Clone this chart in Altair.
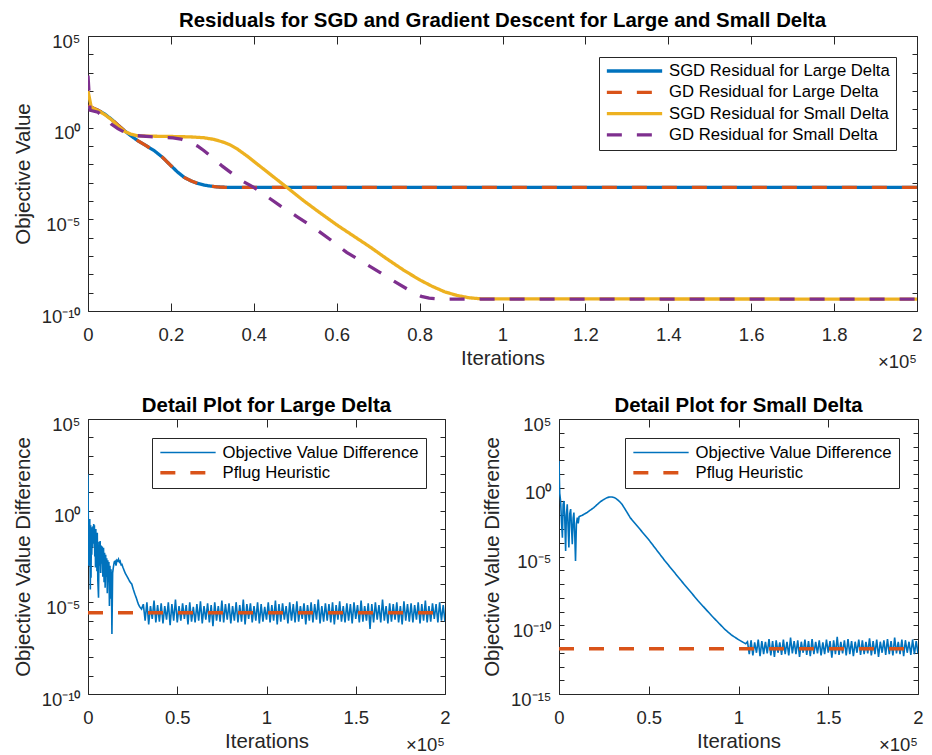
import altair as alt
import pandas as pd

FONT = "Liberation Sans"
AX = "#262626"
BLUE, ORANGE, YELLOW, PURPLE = "#0072BD", "#D95319", "#EDB120", "#7E2F8E"

TOP_NAMES = ["SGD Residual for Large Delta", "GD Residual for Large Delta",
             "SGD Residual for Small Delta", "GD Residual for Small Delta"]
DETAIL_NAMES = ["Objective Value Difference", "Pflug Heuristic"]

TOP_TITLE = "Residuals for SGD and Gradient Descent for Large and Small Delta"
LEFT_TITLE = "Detail Plot for Large Delta"
RIGHT_TITLE = "Detail Plot for Small Delta"

TOP_X_TICKS = [0, 20000, 40000, 60000, 80000, 100000, 120000, 140000, 160000, 180000, 200000]
DETAIL_X_TICKS = [0, 50000, 100000, 150000, 200000]
TOP_Y_TICKS = [1e5, 1e4, 1e3, 1e2, 1e1, 1e0, 1e-1, 1e-2, 1e-3, 1e-4, 1e-5,
               1e-6, 1e-7, 1e-8, 1e-9, 1e-10]
RIGHT_Y_TICKS = TOP_Y_TICKS + [1e-11, 1e-12, 1e-13, 1e-14, 1e-15]

# ---- top panel (iterations, log10 of objective value) ----
large_x = [0, 1000, 2400, 4000, 5600, 7200, 8800, 10400, 12000, 14000, 16000, 18000,
           20000, 21600, 23200, 24800, 26400, 28000, 29600, 31200, 32800, 34400, 37000, 200000]
sgd_large_log = [1.12, 1.08, 0.95, 0.75, 0.47, 0.15, -0.17, -0.45, -0.71, -0.98, -1.26, -1.62,
                 -2.07, -2.42, -2.71, -2.9, -3.04, -3.13, -3.19, -3.23, -3.25, -3.26, -3.26, -3.26]
gd_large_log = [1.2, 1.1, 0.95, 0.75, 0.47, 0.15, -0.17, -0.45, -0.71, -0.98, -1.26, -1.62,
                -2.07, -2.42, -2.71, -2.9, -3.04, -3.13, -3.19, -3.23, -3.25, -3.26, -3.26, -3.26]

sgd_small_x = [0, 800, 2400, 4000, 5600, 7200, 8800, 10400, 12000, 14400, 16800, 19600, 22400,
               25200, 28000, 30400, 32800, 34400, 36000, 38400, 40800, 44000, 48000, 52000, 56000,
               60000, 64000, 68000, 72000, 76000, 80000, 83000, 86000, 89000, 92000, 95000, 200000]
sgd_small_log = [2.0, 1.1, 0.93, 0.72, 0.45, 0.1, -0.2, -0.36, -0.44, -0.46, -0.47, -0.48, -0.49,
                 -0.51, -0.55, -0.64, -0.8, -0.95, -1.16, -1.55, -1.98, -2.55, -3.26, -3.98, -4.65,
                 -5.3, -5.9, -6.5, -7.14, -7.75, -8.3, -8.65, -8.95, -9.15, -9.28, -9.34, -9.35]

gd_small_x = [0, 500, 2400, 4000, 5600, 7200, 8800, 10400, 12000, 15000, 18400, 20500, 22400,
              24500, 26400, 28000, 30400, 32400, 34400, 37000, 40000, 43200, 46400, 50400, 54400,
              58400, 62400, 66400, 70400, 74400, 78400, 80400, 82300, 85000, 200000]
gd_small_log = [2.84, 0.95, 0.84, 0.55, 0.2, -0.05, -0.25, -0.38, -0.44, -0.49, -0.53, -0.56, -0.62,
                -0.78, -1.0, -1.26, -1.7, -2.1, -2.44, -2.88, -3.26, -3.76, -4.26, -4.85, -5.44,
                -6.1, -6.8, -7.35, -7.89, -8.45, -8.99, -9.2, -9.3, -9.35, -9.35]

# ---- detail plot, large delta ----
dl_early_x = [0, 200, 400, 600, 800, 1000, 1300, 1500, 1700, 1900,
              2100, 2400, 2600, 2800, 3000, 3200, 3400, 3600, 3800, 4000,
              4200, 4400, 4600, 4800, 5000, 5200, 5500, 5900, 6200, 6500,
              6800, 7100, 7400, 7700, 8000, 8300, 8700, 9000, 9300, 9600,
              9900, 10200, 10500, 10800, 11100, 11400, 11700, 12000, 12300, 12600,
              12900, 13200, 13400, 13800, 14200, 14700, 15200, 15700, 16200, 16700,
              17100, 17600, 18000, 18500, 19000, 19600, 20200, 20800, 21700, 22500,
              23300, 24000, 24500, 25400, 26300, 27200, 28200, 29000, 30000]
dl_early_log = [1.98, -0.9, -3.0, -0.5, -2.2, -0.45, -4.3, -0.8, -3.66, -1.0,
                -2.4, -0.9, -2.0, -0.85, -1.6, -0.73, -1.8, -0.8, -2.5, -1.1,
                -3.1, -1.0, -2.7, -1.3, -3.3, -1.2, -3.8, -4.75, -1.7, -3.0,
                -1.65, -3.4, -1.9, -2.9, -1.95, -3.6, -2.02, -3.9, -2.3, -4.2,
                -2.4, -3.6, -2.6, -4.5, -2.7, -3.9, -2.8, -5.2, -3.0, -4.8,
                -3.2, -4.5, -6.73, -3.4, -3.1, -2.8, -2.75, -3.0, -2.7, -2.75,
                -2.65, -2.8, -2.75, -2.95, -2.93, -3.1, -3.25, -3.4, -3.56, -3.7,
                -3.85, -3.95, -4.0, -4.3, -4.56, -4.8, -5.1, -5.25, -5.37]
dl_flat_x = list(range(31000, 201000, 1000))
dl_flat_log = [
    -5.1, -6.0, -5.0, -6.2, -5.2, -5.9, -4.9, -6.1, -5.15, -6.05,
    -5.05, -6.15, -5.2, -5.95, -5.0, -6.25, -5.1, -6.0, -4.85, -6.1,
    -5.2, -6.0, -5.05, -5.9, -5.15, -6.2, -5.0, -6.05, -5.25, -6.1,
    -5.1, -6.0, -4.95, -6.15, -5.2, -5.95, -5.05, -6.1, -5.15, -6.3,
    -5.0, -6.0, -5.2, -6.05, -4.9, -6.1, -5.1, -5.95, -5.05, -6.15,
    -5.2, -6.0, -5.0, -6.1, -5.15, -6.05, -4.85, -6.2, -5.1, -5.9,
    -5.05, -6.1, -5.2, -6.0, -5.0, -6.15, -5.1, -6.05, -5.25, -5.95,
    -5.0, -6.1, -5.15, -6.0, -4.9, -6.2, -5.1, -6.05, -5.05, -5.95,
    -5.2, -6.15, -5.0, -6.0, -5.1, -6.1, -4.95, -6.05, -5.2, -5.9,
    -5.05, -6.2, -5.15, -6.0, -5.0, -6.1, -5.1, -5.95, -4.85, -6.15,
    -5.2, -6.05, -5.05, -6.0, -5.1, -6.1, -5.0, -6.2, -5.15, -5.95,
    -4.95, -6.05, -5.2, -6.1, -5.05, -6.0, -5.1, -6.15, -5.0, -5.9,
    -5.15, -6.1, -4.9, -6.05, -5.2, -6.0, -5.05, -6.45, -5.1, -6.1,
    -5.0, -5.95, -5.15, -6.1, -4.85, -6.0, -5.2, -6.15, -5.05, -6.05,
    -5.1, -5.95, -5.0, -6.1, -5.2, -6.2, -4.95, -6.0, -5.1, -6.05,
    -5.05, -6.1, -5.15, -5.95, -5.0, -6.15, -5.1, -6.0, -4.9, -6.1,
    -5.2, -6.05, -5.05, -5.9, -5.1, -6.1, -5.0, -6.0, -5.15, -6.05]
pflug_large_log = -5.57

# ---- detail plot, small delta ----
dr_early_x = [0, 400, 900, 1400, 1900, 2300, 2800, 3200, 3700, 4100, 4600, 5000, 5500, 6000, 6500,
              7000, 7400, 7900, 8300, 8800, 9200, 9700, 10200, 10700, 11200, 12000, 13000, 14000,
              15700, 17500, 19400, 21200, 23100, 25000, 26800, 28200, 29600, 31000, 32300, 33700,
              35100, 37400, 39700, 50000, 59100, 68000, 77600, 85000, 92400, 96000, 99700, 102000,
              104000]
dr_early_log = [1.95, -0.4, -0.96, -2.5, -3.63, -1.2, -0.96, -2.2, -4.6, -2.0, -1.2, -2.6, -4.35,
                -1.9, -1.55, -3.0, -4.1, -2.2, -1.8, -3.5, -5.33, -2.6, -2.18, -2.6, -2.1, -2.05,
                -2.0, -1.92, -1.8, -1.62, -1.45, -1.23, -1.01, -0.85, -0.72, -0.67, -0.67, -0.72,
                -0.84, -1.0, -1.2, -1.68, -2.18, -3.78, -5.33, -6.75, -8.24, -9.3, -10.3, -10.7,
                -11.02, -11.2, -11.35]
dr_flat_x = list(range(105000, 201000, 1000))
dr_flat_log = [
    -11.2, -12.1, -11.1, -12.2, -11.25, -12.0, -11.05, -12.25, -11.15, -12.1,
    -11.2, -12.05, -11.0, -12.2, -11.15, -12.3, -11.1, -12.0, -11.25, -12.15,
    -11.05, -12.1, -11.2, -12.2, -10.9, -12.05, -11.15, -12.1, -11.1, -12.3,
    -11.2, -12.0, -11.05, -12.15, -11.15, -12.25, -11.0, -12.1, -11.2, -12.05,
    -11.1, -12.2, -11.25, -12.1, -11.05, -12.0, -11.15, -12.35, -11.1, -12.1,
    -10.85, -12.15, -11.2, -12.05, -11.1, -12.2, -11.0, -12.1, -11.15, -12.25,
    -11.2, -12.0, -11.05, -12.15, -11.1, -12.1, -11.2, -12.05, -10.95, -12.2,
    -11.15, -12.1, -11.05, -12.3, -11.2, -12.0, -11.1, -12.15, -11.0, -12.1,
    -11.15, -12.2, -10.9, -12.05, -11.2, -12.1, -11.05, -12.25, -11.1, -12.0,
    -11.2, -12.15, -11.05, -12.1, -11.15, -12.05]
pflug_small_log = -11.7


def frame(xs, logs, name):
    return pd.DataFrame({"x": xs, "y": [10.0 ** v for v in logs], "series": name})


def y_label_expr():
    e = "round(log(datum.value) / LN10)"
    return (f"{e} == 5 ? '10\u2075' : {e} == 0 ? '10\u2070' : {e} == -5 ? '10\u207b\u2075' : "
            f"{e} == -10 ? '10\u207b\u00b9\u2070' : {e} == -15 ? '10\u207b\u00b9\u2075' : ''")


def x_axis(values):
    return alt.Axis(values=values, orient="bottom", labelExpr="format(datum.value / 100000, '~g')",
                    offset=-8, tickSize=8, domain=False, grid=False, labelPadding=14,
                    labelFlush=False, labelOverlap=False, labelFont=FONT, labelFontSize=18.5,
                    labelColor=AX, tickColor=AX, title="Iterations", titleFont=FONT,
                    titleFontSize=20.4, titleFontWeight="normal", titleColor=AX, titlePadding=5)


def y_axis(values, title):
    return alt.Axis(values=values, orient="left", labelExpr=y_label_expr(), offset=-5, tickSize=5,
                    domain=False, grid=False, labelPadding=8, labelOverlap=False, labelFont=FONT,
                    labelFontSize=18.5, labelColor=AX, tickColor=AX, labelOffset=5, title=title,
                    titleFont=FONT, titleFontSize=20.4, titleFontWeight="normal", titleColor=AX,
                    titlePadding=8)


def x_axis_top(values):
    return alt.Axis(values=values, orient="top", offset=-8, tickSize=8, domain=False, grid=False,
                    labels=False, tickColor=AX, title=None)


def y_axis_right(values):
    return alt.Axis(values=values, orient="right", offset=-5, tickSize=5, domain=False, grid=False,
                    labels=False, tickColor=AX, title=None)


def legend(offset, padding, row_padding, stroke_width=None):
    kw = dict(title=None, orient="top-right", offset=offset, padding=padding,
              rowPadding=row_padding, strokeColor=AX, fillColor="white", symbolType="stroke",
              symbolSize=3058, clipHeight=16, labelFont=FONT, labelFontSize=16.7,
              labelColor="black", labelOffset=5, labelLimit=400)
    if stroke_width is not None:
        kw["symbolStrokeWidth"] = stroke_width
    return alt.Legend(**kw)


def panel(frames, names, colors, dashes, widths, x_ticks, y_ticks, y_dom, title, y_title, w, h,
          top_legend, title_offset):
    xs = alt.Scale(domain=[0, 200000], nice=False, zero=False)
    ys = alt.Scale(type="log", domain=y_dom, nice=False)
    lg = legend(21, 6, 4.3, 3.3) if top_legend else legend(19, 6.5, 3.3)
    color = alt.Color("series:N", scale=alt.Scale(domain=names, range=colors), legend=lg)
    dash = alt.StrokeDash("series:N", scale=alt.Scale(domain=names, range=dashes), legend=lg)
    tick_layer = alt.Chart(frames[0]).mark_line(opacity=0).encode(
        x=alt.X("x:Q", scale=xs, axis=x_axis_top(x_ticks)),
        y=alt.Y("y:Q", scale=ys, axis=y_axis_right(y_ticks)),
    )
    layers = [tick_layer]
    for i, f in enumerate(frames):
        first = i == 0
        enc = dict(
            x=alt.X("x:Q", scale=xs, axis=x_axis(x_ticks) if first else None),
            y=alt.Y("y:Q", scale=ys, axis=y_axis(y_ticks, y_title) if first else None),
            color=color,
            strokeDash=dash,
        )
        if top_legend:
            mark = alt.Chart(f).mark_line(strokeWidth=3.3, clip=True)
        else:
            enc["strokeWidth"] = alt.StrokeWidth(
                "series:N", scale=alt.Scale(domain=names, range=widths), legend=lg)
            mark = alt.Chart(f).mark_line(clip=True)
        layers.append(mark.encode(**enc))
    ann = alt.Chart(pd.DataFrame({"t": ["\u00d710\u2075"]})).mark_text(
        align="right", baseline="alphabetic", font=FONT, fontSize=18.5, color=AX
    ).encode(x=alt.value(w), y=alt.value(h + 57), text="t:N")
    layers.append(ann)
    return alt.layer(*layers).resolve_axis(x="independent", y="independent").properties(
        width=w, height=h,
        title=alt.TitleParams(title, font=FONT, fontSize=20.4, fontWeight="bold", color="black",
                              anchor="middle", frame="group", baseline="alphabetic",
                              offset=title_offset),
    )


top = panel(
    [frame(large_x, sgd_large_log, TOP_NAMES[0]), frame(large_x, gd_large_log, TOP_NAMES[1]),
     frame(sgd_small_x, sgd_small_log, TOP_NAMES[2]), frame(gd_small_x, gd_small_log, TOP_NAMES[3])],
    TOP_NAMES, [BLUE, ORANGE, YELLOW, PURPLE], [[1, 0], [15, 15], [1, 0], [15, 15]], None,
    TOP_X_TICKS, TOP_Y_TICKS, [1e-10, 1e5], TOP_TITLE, "Objective Value", 829, 275, True, -15)

left = panel(
    [frame(dl_early_x + dl_flat_x, dl_early_log + dl_flat_log, DETAIL_NAMES[0]),
     frame([0, 200000], [pflug_large_log, pflug_large_log], DETAIL_NAMES[1])],
    DETAIL_NAMES, [BLUE, ORANGE], [[1, 0], [15, 15]], [1.6, 3.5],
    DETAIL_X_TICKS, TOP_Y_TICKS, [1e-10, 1e5], LEFT_TITLE, "Objective Value Difference", 357, 275,
    False, -17)

right = panel(
    [frame(dr_early_x + dr_flat_x, dr_early_log + dr_flat_log, DETAIL_NAMES[0]),
     frame([0, 200000], [pflug_small_log, pflug_small_log], DETAIL_NAMES[1])],
    DETAIL_NAMES, [BLUE, ORANGE], [[1, 0], [15, 15]], [1.6, 3.5],
    DETAIL_X_TICKS, RIGHT_Y_TICKS, [1e-15, 1e5], RIGHT_TITLE, "Objective Value Difference", 359,
    275, False, -17)

indep = dict(x="independent", y="independent", color="independent",
             strokeDash="independent", strokeWidth="independent")

bottom = alt.hconcat(left, right, spacing=31).resolve_scale(**indep)

chart = alt.vconcat(top, bottom, spacing=23).resolve_scale(**indep).properties(
    padding={"left": 4, "top": 2, "right": 0, "bottom": 0}
).configure_view(stroke=AX, strokeWidth=1)

chart.save("out.html", embed_options={"renderer": "svg", "actions": False})
